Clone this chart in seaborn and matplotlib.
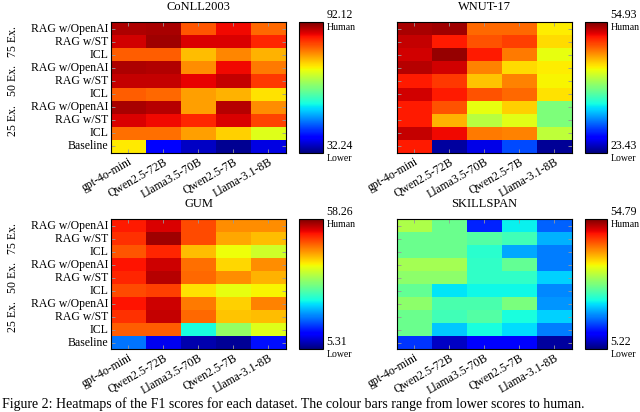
import numpy as np
import pandas as pd
import matplotlib
matplotlib.use("Agg")
import matplotlib.pyplot as plt
import matplotlib.transforms as mtransforms
import seaborn as sns

# Row / column labels
models = ["gpt-4o-mini", "Qwen2.5-72B", "Llama3.5-70B", "Qwen2.5-7B", "Llama-3.1-8B"]
methods = ["RAG w/OpenAI", "RAG w/ST", "ICL"] * 3 + ["Baseline"]
groups = ["75 Ex.", "50 Ex.", "25 Ex."]

# F1 scores (rows: 75 Ex. x3, 50 Ex. x3, 25 Ex. x3, Baseline)
conll = [
    [89.7, 89.9, 81.3, 86.1, 80.1],
    [87.9, 90.3, 87.3, 87.3, 84.3],
    [80.7, 80.7, 74.8, 78.3, 75.4],
    [89.7, 89.4, 77.8, 86.1, 78.9],
    [88.5, 88.5, 86.7, 88.5, 83.1],
    [80.7, 80.1, 76.6, 75.4, 72.4],
    [89.9, 89.1, 76.6, 89.1, 77.8],
    [87.3, 86.1, 84.3, 87.3, 82.5],
    [79.5, 79.5, 76.6, 73.6, 69.4],
    [71.8, 39.4, 35.8, 33.4, 37.6],
]
wnut = [
    [53.7, 54.0, 48.6, 48.6, 44.2],
    [53.0, 51.2, 49.3, 49.9, 44.8],
    [52.7, 54.3, 51.2, 48.0, 43.3],
    [53.4, 52.7, 47.7, 44.8, 44.2],
    [51.2, 50.2, 45.5, 47.7, 43.9],
    [52.7, 51.2, 49.3, 48.6, 44.5],
    [51.2, 49.3, 43.3, 45.2, 39.2],
    [51.2, 46.1, 41.4, 43.0, 39.2],
    [53.0, 51.8, 48.0, 47.7, 41.7],
    [51.2, 24.4, 26.3, 29.7, 24.1],
]
gum = [
    [51.9, 54.0, 49.3, 45.6, 45.6],
    [50.8, 56.7, 49.3, 44.0, 42.9],
    [48.7, 51.4, 42.9, 39.2, 37.1],
    [52.4, 54.6, 47.1, 41.3, 45.6],
    [51.4, 55.6, 47.7, 45.6, 43.4],
    [49.3, 49.8, 40.8, 38.7, 39.7],
    [52.4, 54.6, 46.6, 41.8, 46.1],
    [50.8, 55.1, 47.7, 42.4, 42.9],
    [48.2, 48.2, 25.4, 33.4, 38.1],
    [18.0, 10.6, 7.4, 6.4, 12.7],
]
skillspan = [
    [33.0, 29.0, 13.1, 23.1, 16.1],
    [29.0, 29.0, 27.5, 26.5, 20.1],
    [29.0, 29.0, 25.0, 19.6, 17.6],
    [32.5, 32.5, 25.5, 28.5, 17.6],
    [31.0, 31.0, 25.5, 25.5, 21.6],
    [28.5, 22.6, 23.6, 23.6, 18.1],
    [31.0, 27.0, 27.0, 30.0, 18.6],
    [29.0, 26.5, 27.5, 24.1, 21.6],
    [29.0, 21.1, 24.1, 22.1, 17.6],
    [14.1, 8.2, 10.7, 11.2, 6.7],
]

# colour bar limits (Lower, Human)
conll_range = (32.24, 92.12)
wnut_range = (23.43, 54.93)
gum_range = (5.31, 58.26)
skillspan_range = (5.22, 54.79)

plt.rcParams['font.family'] = ['Liberation Serif', 'DejaVu Serif']

fig = plt.figure(figsize=(6.4, 4.12), dpi=100)


def draw(pos, cpos, data, title, rng, show_y):
    ax = fig.add_axes(pos)
    cax = fig.add_axes(cpos)
    df = pd.DataFrame(data, index=methods, columns=models)
    sns.heatmap(df, ax=ax, cbar_ax=cax, cmap="jet", vmin=rng[0], vmax=rng[1])
    ax.set_title(title, fontsize=9, pad=9)
    ax.set_yticks(np.arange(len(methods)) + 0.5)
    if show_y:
        ax.set_yticklabels(methods, rotation=0, fontsize=8.5)
        trans = mtransforms.blended_transform_factory(ax.transAxes, ax.transData)
        for i, g in enumerate(groups):
            ax.text(-0.56, 3 * i + 1.5, g, rotation=90, ha="center", va="center",
                    fontsize=8.5, transform=trans)
    else:
        ax.set_yticklabels([])
    ax.set_xticks(np.arange(len(models)) + 0.5)
    ax.set_xticklabels(models, rotation=30, ha="right", rotation_mode="anchor", fontsize=8.5)
    ax.tick_params(direction="in", length=3, width=0.6, color="0.6",
                   top=True, right=True, pad=2)
    for sp in ax.spines.values():
        sp.set_visible(True)
        sp.set_linewidth(0.8)
    # colour bar
    cb = ax.collections[0].colorbar
    cb.outline.set_linewidth(0.8)
    cb.outline.set_edgecolor("black")
    cax.set_yticks([])
    cax.text(1.15, 1.01, f"{rng[1]:.2f}", transform=cax.transAxes, ha="left", va="bottom", fontsize=8.5)
    cax.text(1.15, 0.99, "Human", transform=cax.transAxes, ha="left", va="top", fontsize=7)
    cax.text(1.15, 0.01, f"{rng[0]:.2f}", transform=cax.transAxes, ha="left", va="bottom", fontsize=8.5)
    cax.text(1.15, -0.01, "Lower", transform=cax.transAxes, ha="left", va="top", fontsize=7)


draw([0.1734, 0.6286, 0.2734, 0.318], [0.4672, 0.6286, 0.0375, 0.318], conll, "CoNLL2003", conll_range, True)
draw([0.6203, 0.6286, 0.2734, 0.318], [0.914, 0.6286, 0.0344, 0.318], wnut, "WNUT-17", wnut_range, False)
draw([0.1734, 0.1529, 0.2734, 0.3155], [0.4672, 0.1529, 0.0375, 0.3155], gum, "GUM", gum_range, True)
draw([0.6203, 0.1529, 0.2734, 0.3155], [0.914, 0.1529, 0.0344, 0.3155], skillspan, "SKILLSPAN", skillspan_range, False)

# caption along the bottom edge
fig.text(0.003, 0.003,
         "Figure 2: Heatmaps of the F1 scores for each dataset. The colour bars range from lower scores to human.",
         fontsize=10, ha="left", va="bottom")

fig.savefig("out.png", dpi=100)
